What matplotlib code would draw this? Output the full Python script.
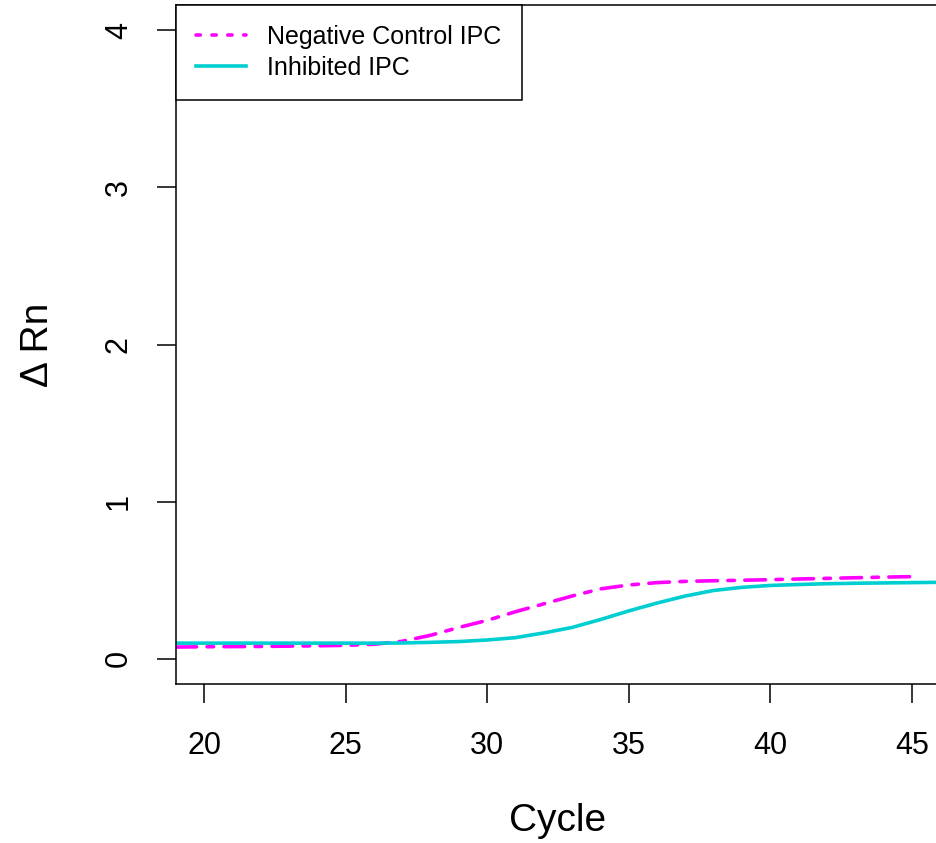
import numpy as np
import matplotlib
matplotlib.use("Agg")
import matplotlib.pyplot as plt
from matplotlib.lines import Line2D

plt.rcParams['font.family'] = ['Liberation Sans', 'DejaVu Sans']

### data ###
cycles_neg = np.arange(19, 46)
neg_control = [0.075, 0.077, 0.078, 0.079, 0.081, 0.083, 0.086, 0.093, 0.112,
               0.150, 0.200, 0.245, 0.300, 0.350, 0.400, 0.445, 0.470, 0.485,
               0.493, 0.497, 0.500, 0.504, 0.508, 0.512, 0.516, 0.520, 0.523]

cycles_inh = np.arange(19, 47)
inhibited = [0.100, 0.100, 0.100, 0.100, 0.100, 0.100, 0.100, 0.100, 0.101,
             0.105, 0.110, 0.120, 0.135, 0.165, 0.200, 0.250, 0.305, 0.355,
             0.400, 0.435, 0.455, 0.467, 0.473, 0.478, 0.481, 0.483, 0.485,
             0.487]

x_ticks = [20, 25, 30, 35, 40, 45]
y_ticks = [0, 1, 2, 3, 4]
labels = ['Negative Control IPC', 'Inhibited IPC']
col_neg = '#FF00FF'
col_inh = '#00CED1'

W, H = 937, 843
fig = plt.figure(figsize=(W / 100, H / 100), dpi=100)
# axes box in pixels: left 176, right ~940 (off the image), top 5, bottom 684
ax = fig.add_axes([176 / W, (H - 684) / H, (940 - 176) / W, (684 - 5) / H])

lw = 2.6
ax.plot(cycles_neg, neg_control, color=col_neg, lw=lw,
        linestyle=(0, (5.7, 2.9, 1.8, 2.9)), dash_capstyle='round')
ax.plot(cycles_inh, inhibited, color=col_inh, lw=lw, solid_capstyle='butt')

ax.set_xlim(19, 46)
ax.set_ylim(-0.16, 4.16)
ax.set_xticks(x_ticks)
ax.set_yticks(y_ticks)
ax.tick_params(axis='both', direction='out', length=14, width=1.1,
               labelsize=22)
ax.tick_params(axis='x', pad=20)
ax.tick_params(axis='y', pad=16.4)
for lab in ax.get_yticklabels():
    lab.set_rotation(90)
    lab.set_va('center')
for s in ax.spines.values():
    s.set_linewidth(1.1)

ax.set_xlabel('Cycle', fontsize=28, labelpad=30)
ax.set_ylabel('\u0394 Rn', fontsize=28, labelpad=34.5)

handles = [
    Line2D([], [], color=col_neg, lw=lw, linestyle=(0, (1.2, 3.2)),
           dash_capstyle='round'),
    Line2D([], [], color=col_inh, lw=lw),
]
leg = ax.legend(handles, labels, loc='upper left', bbox_to_anchor=(0, 1),
                borderaxespad=0, fontsize=18, frameon=True, fancybox=False,
                edgecolor='black', framealpha=1, handlelength=2.0,
                handletextpad=0.85, borderpad=0.8, labelspacing=0.27)
leg.get_frame().set_linewidth(1.1)

fig.savefig('out.png', dpi=100)
